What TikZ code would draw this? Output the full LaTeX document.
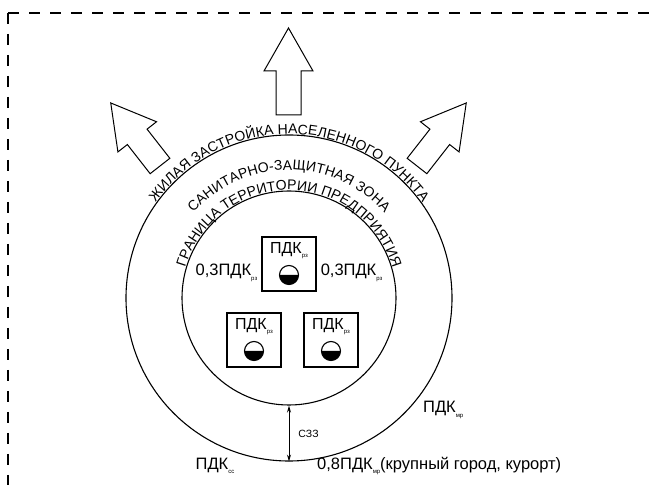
\documentclass[tikz,border=0pt]{standalone}
\usepackage{fontspec}
\setmainfont{Liberation Sans}
\usetikzlibrary{positioning, arrows.meta, decorations.text}

\newcommand{\pdksub}[1]{\raisebox{-0.5ex}{\fontsize{6}{6}\selectfont #1}}
\newcommand{\arcfont}{\fontsize{14}{16}\selectfont}

\begin{document}
\begin{tikzpicture}[x=1pt, y=1pt,
    ring/.style={circle, draw, line width=1.1pt, inner sep=0pt},
    pdkbox/.style={draw, line width=1.1pt, minimum size=54pt, inner sep=0pt},
    lbl/.style={font=\fontsize{16.5}{18}\selectfont, inner sep=1pt},
    arctext/.style={decorate, decoration={text along path, text align=center, raise=1pt, text={|\arcfont|#1}}}]

\useasboundingbox (0,0) rectangle (654,485);

% рамка
\draw[line width=1.6pt, dash pattern=on 11pt off 10pt] (8,472) -- (654,472);
\draw[line width=1.6pt, dash pattern=on 11pt off 10pt] (8,472) -- (8,0);

% зоны
\coordinate (c) at (289,187);
\node[ring, minimum size=326pt] (outer) at (c) {};
\node[ring, minimum size=214pt] (inner) at (c) {};

\path[arctext={ЖИЛАЯ ЗАСТРОЙКА НАСЕЛЕННОГО ПУНКТА}] ([shift={(170:163)}]c) arc[start angle=170, end angle=10, radius=163];
\path[arctext={САНИТАРНО-ЗАЩИТНАЯ ЗОНА}] ([shift={(170:127)}]c) arc[start angle=170, end angle=10, radius=127];
\path[arctext={ГРАНИЦА ТЕРРИТОРИИ ПРЕДПРИЯТИЯ}] ([shift={(178:107)}]c) arc[start angle=178, end angle=2, radius=107];

% источники
\foreach \n/\x/\y in {t/289/221, l/254/145, r/331/145} {
    \node[pdkbox] (box\n) at (\x,\y) {};
    \node[lbl, font=\fontsize{16}{18}\selectfont] (pdk\n) at ([yshift=13]box\n.center) {ПДК\pdksub{рз}};
    \fill ([shift={(-9.5,-11)}]box\n.center) arc[start angle=180, end angle=360, radius=9.5] -- cycle;
    \draw[line width=1.1pt] ([yshift=-11]box\n.center) circle[radius=9.5];
}
\node[lbl, left=3pt of boxt, yshift=-9pt] (kleft) {0,3ПДК\pdksub{рз}};
\node[lbl, right=3pt of boxt, yshift=-9pt] (kright) {0,3ПДК\pdksub{рз}};

% СЗЗ
\draw[{Stealth[length=7pt,width=4pt]}-{Stealth[length=7pt,width=4pt]}, line width=0.9pt] (inner.south) -- (outer.south)
    node[midway, right=8pt, font=\fontsize{10.5}{12}\selectfont, inner sep=1pt] (szz) {СЗЗ};

\node[lbl, anchor=west] (pdkmr) at (422,75) {ПДК\pdksub{мр}};
\node[lbl] (pdkcc) at (215,19) {ПДК\pdksub{сс}};
\node[lbl, anchor=west] (pdkcity) at (316,19) {0,8ПДК\pdksub{мр}(крупный город, курорт)};

% направления
\foreach \bx/\by/\ang/\len in {288.5/370/0/87, 160/319/38/80, 417/319/-38/80}
    \draw[line width=1pt, shift={(\bx,\by)}, rotate=\ang]
        (-12.5,0) -- (-12.5,\len-43) -- (-24.5,\len-43) -- (0,\len)
        -- (24.5,\len-43) -- (12.5,\len-43) -- (12.5,0) -- cycle;
\end{tikzpicture}
\end{document}
